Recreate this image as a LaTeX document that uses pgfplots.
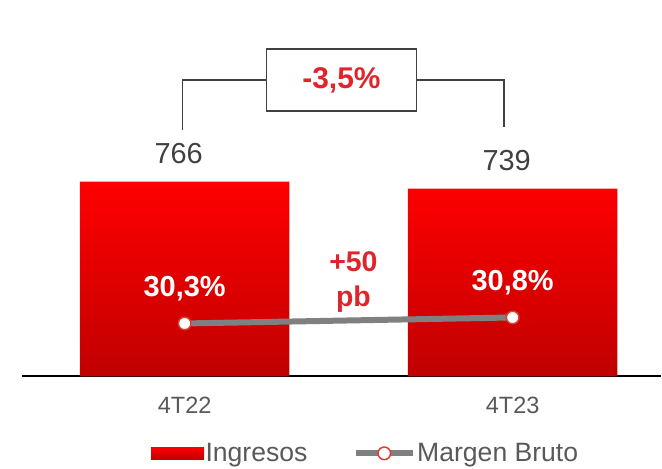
\documentclass[border=0pt]{standalone}
\usepackage{fontspec}
\setmainfont{Liberation Sans}
\usepackage{pgfplots}
\pgfplotsset{compat=1.18}
\definecolor{barTop}{HTML}{FF0000}
\definecolor{barBot}{HTML}{C00000}
\definecolor{txtRed}{HTML}{E0242B}
\definecolor{markRed}{HTML}{E03C31}
\definecolor{lineGray}{HTML}{808080}
\definecolor{labGray}{HTML}{595959}
\definecolor{valGray}{HTML}{404040}
\definecolor{brk}{HTML}{404040}
\begin{document}
\begin{tikzpicture}
\path (0pt,0pt) rectangle (662pt,469pt);
\begin{axis}[
  at={(22pt,92pt)}, anchor=south west,
  scale only axis, width=640pt, height=367pt,
  xmin=-0.496, xmax=1.452, ymin=0, ymax=1441.5,
  axis y line=none, axis x line*=bottom,
  x axis line style={black, line width=2.2pt},
  xtick={0,1}, xticklabels={4T22,4T23},
  major tick length=0pt,
  xticklabel style={font=\fontsize{23.6}{28}\selectfont, text=labGray, yshift=-17pt},
  ytick=\empty,
  /pgf/number format/assume math mode=true,
  clip=false,
]
\addplot[ybar, bar width=210pt, draw=none, top color=barTop, bottom color=barBot,
  nodes near coords,
  every node near coord/.append style={font=\fontsize{29}{34}\selectfont, text=valGray, yshift=14pt, xshift=-6pt}]
  coordinates {(0,766) (1,739)};
\end{axis}
\begin{axis}[
  at={(22pt,92pt)}, anchor=south west,
  scale only axis, width=640pt, height=367pt,
  xmin=-0.496, xmax=1.452, ymin=25.883, ymax=56.467,
  axis lines=none, clip=false,
  /pgf/number format/assume math mode=true,
  legend style={at={(0.5375,-0.21)}, anchor=center, draw=none, fill=none,
    legend columns=2, font=\fontsize{26.6}{30}\selectfont, text=labGray,
    nodes={inner sep=1.5pt},
    /tikz/every even column/.append style={column sep=44pt}},
  legend cell align=left,
]
\addlegendimage{legend image code/.code={\path[draw=none, top color=barTop, bottom color=barBot] (0pt,-6pt) rectangle (53pt,6pt);}}
\addlegendentry{Ingresos}
\addplot[lineGray, line width=6pt, mark=*, mark size=6.3pt,
  mark options={fill=white, draw=markRed, line width=1.5pt},
  legend image code/.code={\draw[lineGray, line width=6pt] (0pt,0pt) -- (57pt,0pt);
     \draw[fill=white, draw=markRed, line width=1.5pt] (28.5pt,0pt) circle (6.3pt);},
  nodes near coords={\bfseries\pgfmathprintnumber[fixed, fixed zerofill, precision=1, use comma]{\pgfplotspointmeta}\%},
  every node near coord/.style={anchor=center, yshift=35pt, text=white, font=\fontsize{29}{34}\selectfont}]
  coordinates {(0,30.3) (1,30.8)};
\addlegendentry{Margen Bruto}
\end{axis}
\draw[brk, line width=1.5pt] (183pt,339pt) -- (183pt,389pt) -- (267pt,389pt);
\draw[brk, line width=1.5pt] (417pt,389pt) -- (505pt,389pt) -- (505pt,342pt);
\draw[brk, line width=1.5pt] (267pt,358pt) rectangle (417pt,420pt);
\node[text=txtRed, font=\fontsize{30}{36}\selectfont\bfseries] at (342pt,389pt) {-3,5\%};
\node[text=txtRed, font=\fontsize{28.5}{35}\selectfont\bfseries, align=center] at (354pt,186.5pt) {+50\\pb};
\end{tikzpicture}
\end{document}
